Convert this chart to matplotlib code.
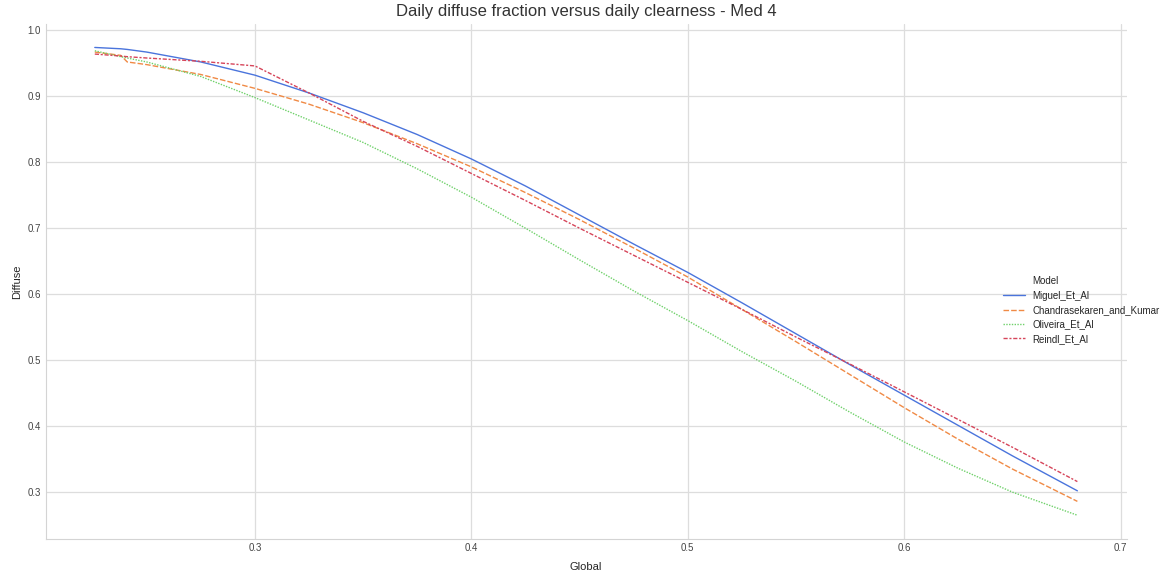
import matplotlib
matplotlib.use('Agg')
import matplotlib.pyplot as plt
from matplotlib.lines import Line2D
import seaborn as sns

# Global (daily clearness index) sample points
global_kt = [0.226, 0.238, 0.241, 0.25, 0.275, 0.30, 0.325, 0.35, 0.375, 0.40, 0.425,
             0.45, 0.475, 0.50, 0.525, 0.55, 0.575, 0.60, 0.625, 0.65, 0.68]

# diffuse fraction per model
miguel = [0.974, 0.972, 0.971, 0.967, 0.952, 0.932, 0.905, 0.875, 0.842, 0.805, 0.764,
          0.720, 0.676, 0.633, 0.587, 0.540, 0.493, 0.447, 0.401, 0.355, 0.302]
chandra = [0.967, 0.962, 0.952, 0.948, 0.933, 0.912, 0.888, 0.860, 0.828, 0.793, 0.754,
           0.713, 0.670, 0.626, 0.577, 0.528, 0.478, 0.428, 0.380, 0.335, 0.286]
oliveira = [0.969, 0.960, 0.958, 0.952, 0.930, 0.898, 0.864, 0.830, 0.790, 0.747, 0.700,
            0.652, 0.605, 0.560, 0.513, 0.468, 0.421, 0.376, 0.336, 0.300, 0.265]
reindl = [0.964, 0.961, 0.960, 0.958, 0.953, 0.946, 0.905, 0.862, 0.824, 0.783, 0.742,
          0.700, 0.659, 0.618, 0.577, 0.535, 0.494, 0.452, 0.410, 0.368, 0.316]

models = ['Miguel_Et_Al', 'Chandrasekaren_and_Kumar', 'Oliveira_Et_Al', 'Reindl_Et_Al']
series = [miguel, chandra, oliveira, reindl]
colors = ['#4a74dc', '#f08a45', '#6fd16a', '#d6455a']
dashes = [(None, None), (4, 1.5), (1, 1), (3, 1.25, 1.5, 1.25)]

sns.set_style('whitegrid')
plt.rcParams['font.family'] = ['Liberation Sans', 'DejaVu Sans']

fig = plt.figure(figsize=(11.71, 5.73), dpi=100)
ax = fig.add_axes([0.039, 0.060, 0.923, 0.898])

handles = [Line2D([], [], linestyle='none', label='Model')]
for name, y, c, d in zip(models, series, colors, dashes):
    line, = ax.plot(global_kt, y, color=c, lw=1.0, label=name)
    if d[0] is not None:
        line.set_dashes(d)
    handles.append(line)

sns.despine(ax=ax)
ax.grid(True, color='#dddddd', lw=0.9)
for s in ['left', 'bottom']:
    ax.spines[s].set_color('#d4d4d4')
ax.tick_params(labelsize=7, colors='#444444', length=0)
ax.set_xticks([0.3, 0.4, 0.5, 0.6, 0.7])
ax.set_xlabel('Global', fontsize=8, labelpad=6)
ax.set_ylabel('Diffuse', fontsize=8, labelpad=4)
ax.set_title('Daily diffuse fraction versus daily clearness - Med 4', fontsize=12, color='#333333', pad=6)

fig.legend(handles=handles, labels=[h.get_label() for h in handles], loc='center left',
           bbox_to_anchor=(0.849, 0.459), frameon=False, fontsize=7, handlelength=2.3,
           handletextpad=0.7, labelspacing=0.45)

plt.savefig('out.png', dpi=100)
